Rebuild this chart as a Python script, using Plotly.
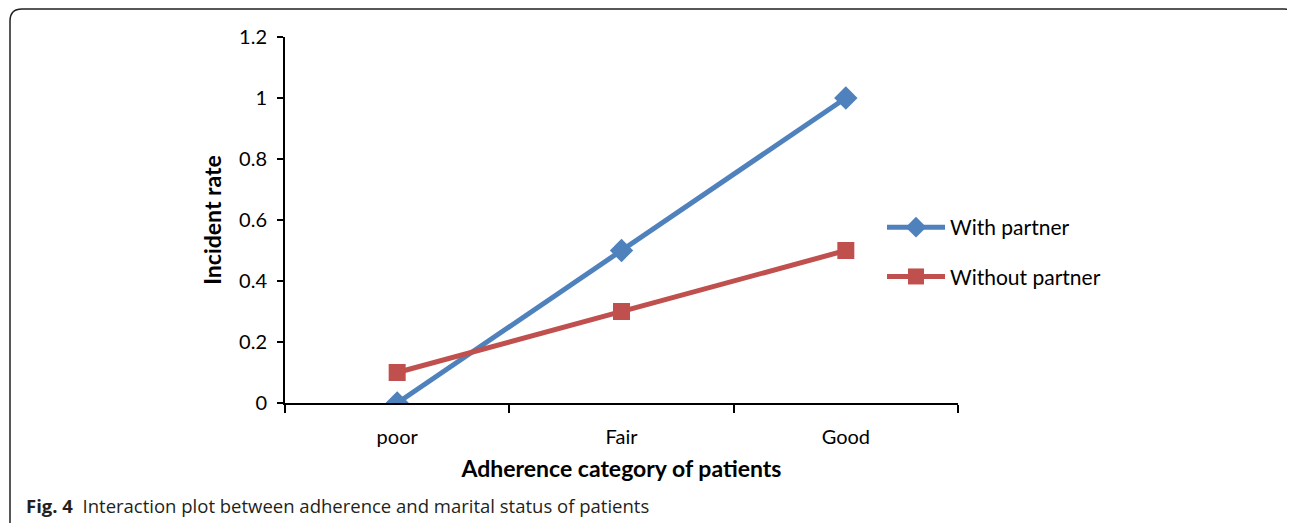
import plotly.graph_objects as go

categories = ["poor", "Fair", "Good"]
with_partner = [0.0, 0.5, 1.0]
without_partner = [0.1, 0.3, 0.5]
y_ticks = [0, 0.2, 0.4, 0.6, 0.8, 1.0, 1.2]
y_tick_labels = ["0", "0.2", "0.4", "0.6", "0.8", "1", "1.2"]

# page body has an 8px margin; compensate so the plot lands where intended
OFF = 8
W, H = 1295 - OFF, 524 - OFF
L, T = 285 - OFF, 37 - OFF
PW, PH = 673, 366
R, B = W - L - PW, H - T - PH

def px(x):
    return (x - OFF - L) / PW

def py(y):
    return (T + PH - (y - OFF)) / PH

FONT = "Lato, Noto Sans, sans-serif"

fig = go.Figure()
fig.add_trace(go.Scatter(
    x=categories, y=with_partner, name="With partner", mode="lines+markers",
    line=dict(color="#4F81BD", width=5),
    marker=dict(symbol="diamond", size=18, color="#4F81BD"),
    legendgroup="a",
))
fig.add_trace(go.Scatter(
    x=categories, y=without_partner, name="Without partner", mode="lines+markers",
    line=dict(color="#C0504D", width=5),
    marker=dict(symbol="square", size=17, color="#C0504D"),
    legendgroup="b",
))

fig.update_layout(
    width=W, height=H,
    margin=dict(l=L, r=R, t=T, b=B, pad=0),
    paper_bgcolor="white", plot_bgcolor="white",
    font=dict(family=FONT, size=20, color="#000000"),
    showlegend=True,
    legend=dict(
        x=px(882), y=py(207), xanchor="left", yanchor="top",
        font=dict(family=FONT, size=21, color="#000000"),
        itemwidth=58, tracegroupgap=19, bgcolor="rgba(0,0,0,0)",
    ),
    xaxis=dict(
        type="category", range=[-0.5, 2.5],
        showline=True, linecolor="black", linewidth=2,
        ticks="outside", ticklen=8, tickwidth=2, tickcolor="black",
        tickson="boundaries", showgrid=False, zeroline=False,
        tickfont=dict(family=FONT, size=20),
        ticklabelstandoff=15,
        title=dict(text="<b>Adherence category of patients</b>",
                   font=dict(family=FONT, size=23), standoff=14),
    ),
    yaxis=dict(
        range=[0, 1.2], tickvals=y_ticks, ticktext=y_tick_labels,
        showline=True, linecolor="black", linewidth=2,
        ticks="outside", ticklen=6, tickwidth=2, tickcolor="black",
        showgrid=False, zeroline=False,
        tickfont=dict(family=FONT, size=20),
        ticklabelstandoff=6,
        title=dict(text="<b>Incident rate</b>",
                   font=dict(family=FONT, size=23), standoff=11),
    ),
)

# Figure frame (rounded top corners)
x0, x1 = px(10), px(1296)
yt, yb = py(9), py(523)
r_x, r_y = 12 / PW, 12 / PH
path = (f"M {x0},{yb} L {x0},{yt - r_y} Q {x0},{yt} {x0 + r_x},{yt} "
        f"L {x1 - r_x},{yt} Q {x1},{yt} {x1},{yt - r_y}")
fig.add_shape(type="path", xref="paper", yref="paper", path=path,
              line=dict(color="#231F20", width=1.5), layer="below")

fig.add_annotation(
    xref="paper", yref="paper", x=px(24), y=py(505),
    xanchor="left", yanchor="middle", showarrow=False,
    text="<b>Fig. 4</b>  Interaction plot between adherence and marital status of patients",
    font=dict(family="Open Sans, Noto Sans, sans-serif", size=18.5, color="#231F20"),
)

fig.write_html("out.html")
